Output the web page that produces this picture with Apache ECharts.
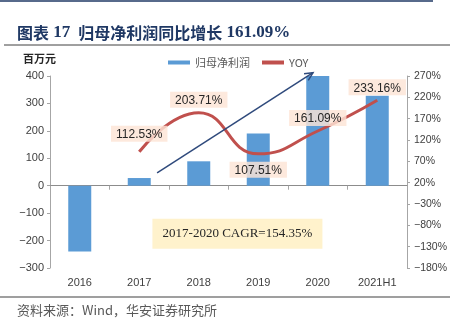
<!DOCTYPE html>
<html>
<head>
<meta charset="utf-8">
<script src="https://cdn.jsdelivr.net/npm/echarts@6/dist/echarts.min.js"></script>
<style>
  html, body { margin: 0; padding: 0; background: #fff; }
  #chart { width: 459px; height: 328px; }
</style>
</head>
<body>
<div id="chart"></div>
<script>
// Net profit attributable to parent (million yuan) and year-on-year growth
const categories = ['2016', '2017', '2018', '2019', '2020', '2021H1'];
const netProfit = [-240, 28, 89, 190, 400, 328];
const yoyGrowth = [null, 112.53, 203.71, 107.51, 161.09, 233.16];
const yoyLabelSide = [null, 'top', 'top', 'bottom', 'top', 'top'];
const yoyLabelGap = [0, 10, 5, 8, 5, 5];
const cagrText = '2017-2020 CAGR=154.35%';

const BLUE = '#5b9bd5';
const RED = '#c0504d';
const NAVY = '#1f3864';
const AXIS = '#a6a6a6';
const LABEL_FONT = '"Liberation Sans", Arial, sans-serif';
const CJK_FONT = '"Noto Sans CJK SC", sans-serif';

// typographic minus for negative tick labels
const minus = s => String(s).replace('-', '\u2212');

const chart = echarts.init(document.getElementById('chart'), null, { renderer: 'canvas' });

const yoyData = yoyGrowth.map((v, i) => v == null ? null : {
  value: v,
  label: { position: yoyLabelSide[i], distance: yoyLabelGap[i] }
});

chart.setOption({
  animation: false,
  backgroundColor: '#fff',
  grid: { left: 50, right: 52, top: 76, bottom: 60 },
  legend: {
    left: 163, top: 52,
    itemWidth: 22, itemHeight: 4, itemGap: 12,
    textStyle: { color: '#595959', fontSize: 11, fontFamily: CJK_FONT },
    data: [
      { name: '归母净利润', icon: 'rect' },
      { name: 'YOY', icon: 'rect', itemStyle: { color: RED } }
    ]
  },
  xAxis: [
    {
      type: 'category', data: categories,
      axisLine: { onZero: true, onZeroAxisIndex: 0, lineStyle: { color: '#8c8c8c', width: 1 } },
      axisTick: { show: true, length: 4, lineStyle: { color: AXIS } },
      axisLabel: { show: false }
    },
    {
      type: 'category', data: categories, position: 'bottom',
      axisLine: { show: false, onZero: false },
      axisTick: { show: false },
      axisLabel: { margin: 9, color: '#404040', fontSize: 11, fontFamily: LABEL_FONT }
    }
  ],
  yAxis: [
    {
      type: 'value', min: -300, max: 400, interval: 100, position: 'left',
      axisLine: { show: true, lineStyle: { color: AXIS } },
      axisTick: { show: true, length: 3, lineStyle: { color: AXIS } },
      axisLabel: { color: '#404040', fontSize: 11, fontFamily: LABEL_FONT, margin: 6, formatter: v => minus(v) },
      splitLine: { show: false }
    },
    {
      type: 'value', min: -180, max: 270, interval: 50, position: 'right',
      axisLine: { show: true, lineStyle: { color: AXIS } },
      axisTick: { show: true, length: 3, lineStyle: { color: AXIS } },
      axisLabel: { color: '#404040', fontSize: 10.5, fontFamily: LABEL_FONT, margin: 7, formatter: v => minus(v) + '%' },
      splitLine: { show: false }
    },
    {
      // scale used by the growth curve
      type: 'value', min: -160, max: 290, show: false,
      splitLine: { show: false }
    }
  ],
  series: [
    {
      name: '归母净利润', type: 'bar', xAxisIndex: 0, yAxisIndex: 0,
      data: netProfit, barWidth: 23,
      itemStyle: { color: BLUE }
    },
    {
      name: 'YOY', type: 'line', xAxisIndex: 0, yAxisIndex: 2,
      data: yoyData, smooth: true, symbol: 'circle', symbolSize: 0, showSymbol: true, z: 3,
      itemStyle: { color: RED },
      lineStyle: { color: RED, width: 3 },
      label: {
        show: true,
        formatter: p => p.value.toFixed(2) + '%',
        color: '#262626', fontSize: 12, fontFamily: LABEL_FONT,
        backgroundColor: 'rgba(252,228,214,0.82)',
        padding: [3, 5, 1, 5]
      }
    }
  ]
});

// Decorations: title, rules, unit, source note, trend arrow and CAGR note
function addGraphics() {
  const px = idx => {
    const a = Math.floor(idx), b = Math.ceil(idx);
    const pa = chart.convertToPixel({ xAxisIndex: 0 }, categories[a]);
    const pb = chart.convertToPixel({ xAxisIndex: 0 }, categories[b]);
    return pa + (pb - pa) * (idx - a);
  };
  const py = v => chart.convertToPixel({ yAxisIndex: 0 }, v);

  const x0 = px(1.3), y0 = py(47);
  const x1 = px(3.92), y1 = py(412);
  const ang = Math.atan2(y1 - y0, x1 - x0);
  const head = 9, spread = 0.45;
  const h1 = [x1 - head * Math.cos(ang - spread), y1 - head * Math.sin(ang - spread)];
  const h2 = [x1 - head * Math.cos(ang + spread), y1 - head * Math.sin(ang + spread)];

  const cx = px(2.65), cy = py(-175);

  chart.setOption({
    graphic: [
      { type: 'line', shape: { x1: 0, y1: 1, x2: 433, y2: 1 }, style: { stroke: NAVY, lineWidth: 1.5 } },
      {
        type: 'text', left: 17, top: 24,
        style: {
          rich: {
            c: { fontFamily: CJK_FONT, fontSize: 16, fontWeight: 'bold', fill: NAVY },
            n: { fontFamily: '"Liberation Serif", serif', fontSize: 17, fontWeight: 'bold', fill: NAVY }
          },
          text: '{c|图表}{n| 17 }{c| 归母净利润同比增长}{n| 161.09%}'
        }
      },
      { type: 'line', shape: { x1: 4, y1: 45, x2: 450, y2: 45 }, style: { stroke: '#404040', lineWidth: 1 } },
      {
        type: 'text', left: 23, top: 53,
        style: { text: '百万元', font: 'bold 11px "Noto Sans CJK SC", sans-serif', fill: '#262626' }
      },
      {
        type: 'line', z: 10,
        shape: { x1: x0, y1: y0, x2: x1, y2: y1 },
        style: { stroke: '#2f4a7c', lineWidth: 1.5 }
      },
      {
        type: 'polyline', z: 10,
        shape: { points: [h1, [x1, y1], h2] },
        style: { stroke: '#2f4a7c', lineWidth: 1.5, fill: null }
      },
      {
        type: 'group', left: cx - 85, top: cy - 15, z: 10,
        children: [
          { type: 'rect', shape: { x: 0, y: 0, width: 170, height: 30 }, style: { fill: '#fff2cc' } },
          {
            type: 'text', x: 85, y: 15,
            style: {
              text: cagrText, align: 'center', verticalAlign: 'middle',
              font: '13px "Liberation Serif", serif', fill: '#262626'
            }
          }
        ]
      },
      { type: 'line', shape: { x1: 0, y1: 297, x2: 450, y2: 297 }, style: { stroke: '#7f7f7f', lineWidth: 1.5 } },
      {
        type: 'text', left: 17, top: 304,
        style: { text: '资料来源：Wind，华安证券研究所', font: '13px "Noto Sans CJK SC", sans-serif', fill: '#595959' }
      }
    ]
  });
}
addGraphics();
</script>
</body>
</html>
